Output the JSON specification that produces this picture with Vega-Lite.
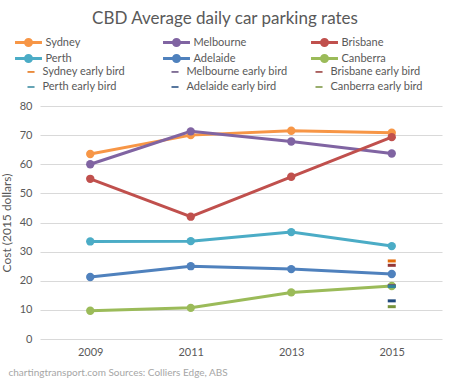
{
  "$schema": "https://vega.github.io/schema/vega-lite/v6.json",
  "width": 402,
  "height": 233,
  "autosize": {"type": "none"},
  "padding": {"left": 40, "top": 106, "right": 7, "bottom": 44},
  "background": "white",
  "config": {
    "view": {"stroke": null},
    "font": "Lato",
    "axis": {"labelFont": "Lato", "titleFont": "Lato", "labelColor": "#595959", "titleColor": "#595959"},
    "legend": {"labelFont": "Lato", "labelColor": "#595959"}
  },
  "title": {
    "text": "CBD Average daily car parking rates",
    "fontSize": 17,
    "fontWeight": "normal",
    "color": "#595959",
    "font": "Lato",
    "anchor": "middle",
    "dx": -16,
    "offset": 8
  },
  "datasets": {
    "cities": [
      {"city": "Sydney", "year": "2009", "cost": 63.5},
      {"city": "Sydney", "year": "2011", "cost": 70.0},
      {"city": "Sydney", "year": "2013", "cost": 71.5},
      {"city": "Sydney", "year": "2015", "cost": 70.8},
      {"city": "Melbourne", "year": "2009", "cost": 60.0},
      {"city": "Melbourne", "year": "2011", "cost": 71.3},
      {"city": "Melbourne", "year": "2013", "cost": 67.8},
      {"city": "Melbourne", "year": "2015", "cost": 63.7},
      {"city": "Brisbane", "year": "2009", "cost": 55.0},
      {"city": "Brisbane", "year": "2011", "cost": 42.0},
      {"city": "Brisbane", "year": "2013", "cost": 55.7},
      {"city": "Brisbane", "year": "2015", "cost": 69.3},
      {"city": "Perth", "year": "2009", "cost": 33.5},
      {"city": "Perth", "year": "2011", "cost": 33.6},
      {"city": "Perth", "year": "2013", "cost": 36.7},
      {"city": "Perth", "year": "2015", "cost": 31.9},
      {"city": "Adelaide", "year": "2009", "cost": 21.3},
      {"city": "Adelaide", "year": "2011", "cost": 25.0},
      {"city": "Adelaide", "year": "2013", "cost": 24.0},
      {"city": "Adelaide", "year": "2015", "cost": 22.3},
      {"city": "Canberra", "year": "2009", "cost": 9.7},
      {"city": "Canberra", "year": "2011", "cost": 10.7},
      {"city": "Canberra", "year": "2013", "cost": 16.0},
      {"city": "Canberra", "year": "2015", "cost": 18.2}
    ],
    "early": [
      {"series": "Sydney early bird", "year": "2015", "cost": 26.8},
      {"series": "Melbourne early bird", "year": "2015", "cost": 18.3},
      {"series": "Brisbane early bird", "year": "2015", "cost": 25.3},
      {"series": "Perth early bird", "year": "2015", "cost": 18.0},
      {"series": "Adelaide early bird", "year": "2015", "cost": 13.1},
      {"series": "Canberra early bird", "year": "2015", "cost": 11.1}
    ]
  },
  "encoding": {
    "x": {
      "field": "year", "type": "ordinal",
      "scale": {"type": "point", "padding": 0.5, "domain": ["2009", "2011", "2013", "2015"]},
      "axis": {
        "labelAngle": 0, "labelFontSize": 11, "labelPadding": 7,
        "domain": false, "ticks": false, "grid": false,
        "title": "chartingtransport.com Sources: Colliers Edge, ABS",
        "titleFontSize": 10, "titleFontWeight": "normal", "titleColor": "#A6A6A6",
        "titleAnchor": "start", "titleAlign": "left", "titleX": -32, "titleY": 33, "titleBaseline": "middle"
      }
    },
    "y": {
      "field": "cost", "type": "quantitative",
      "scale": {"domain": [0, 80], "nice": false},
      "axis": {
        "values": [0, 10, 20, 30, 40, 50, 60, 70, 80],
        "labelOverlap": false,
        "labelFontSize": 11, "labelPadding": 8,
        "domain": false, "ticks": false,
        "gridColor": "#D9D9D9", "gridWidth": 1,
        "title": "Cost (2015 dollars)", "titleFontSize": 12, "titleFontWeight": "normal", "titlePadding": 6
      }
    }
  },
  "layer": [
    {
      "data": {"name": "cities"},
      "mark": {"type": "line", "strokeWidth": 3, "point": {"filled": true, "size": 70}},
      "encoding": {
        "color": {
          "field": "city", "type": "nominal",
          "scale": {
            "domain": ["Sydney", "Melbourne", "Brisbane", "Perth", "Adelaide", "Canberra"],
            "range": ["#F79646", "#8064A2", "#C0504D", "#4BACC6", "#4F81BD", "#9BBB59"]
          },
          "legend": {
            "orient": "none", "legendX": -18.5, "legendY": -70.5,
            "direction": "horizontal", "columns": 3, "gridAlign": "all",
            "columnPadding": 58, "rowPadding": -3.4, "padding": 0,
            "title": null,
            "symbolType": "M-2.45,0L2.45,0M-0.545,0A0.545,0.545,0,1,0,0.545,0A0.545,0.545,0,1,0,-0.545,0ZM-0.2,0A0.2,0.2,0,1,0,0.2,0A0.2,0.2,0,1,0,-0.2,0Z",
            "symbolSize": 121, "symbolStrokeWidth": 3,
            "labelFontSize": 11, "labelOffset": 10
          }
        },
        "order": {"field": "year"}
      }
    },
    {
      "data": {"name": "early"},
      "mark": {"type": "tick", "thickness": 3, "size": 8, "opacity": 1},
      "encoding": {
        "color": {
          "field": "series", "type": "nominal",
          "scale": {
            "domain": ["Sydney early bird", "Melbourne early bird", "Brisbane early bird", "Perth early bird", "Adelaide early bird", "Canberra early bird"],
            "range": ["#E46C0A", "#5F497A", "#953735", "#31859C", "#1F497D", "#77933C"]
          },
          "legend": {
            "orient": "none", "legendX": -18.5, "legendY": -39.8,
            "direction": "horizontal", "columns": 3, "gridAlign": "all",
            "columnPadding": 22, "rowPadding": 3.3, "padding": 0,
            "title": null,
            "symbolType": "M0.09,-0.136H1.37V0.136H0.09Z",
            "symbolSize": 121, "symbolStrokeWidth": 0, "symbolOpacity": 1,
            "labelFontSize": 11, "labelOffset": 10
          }
        }
      }
    }
  ],
  "resolve": {"scale": {"color": "independent"}, "legend": {"color": "independent"}}
}
